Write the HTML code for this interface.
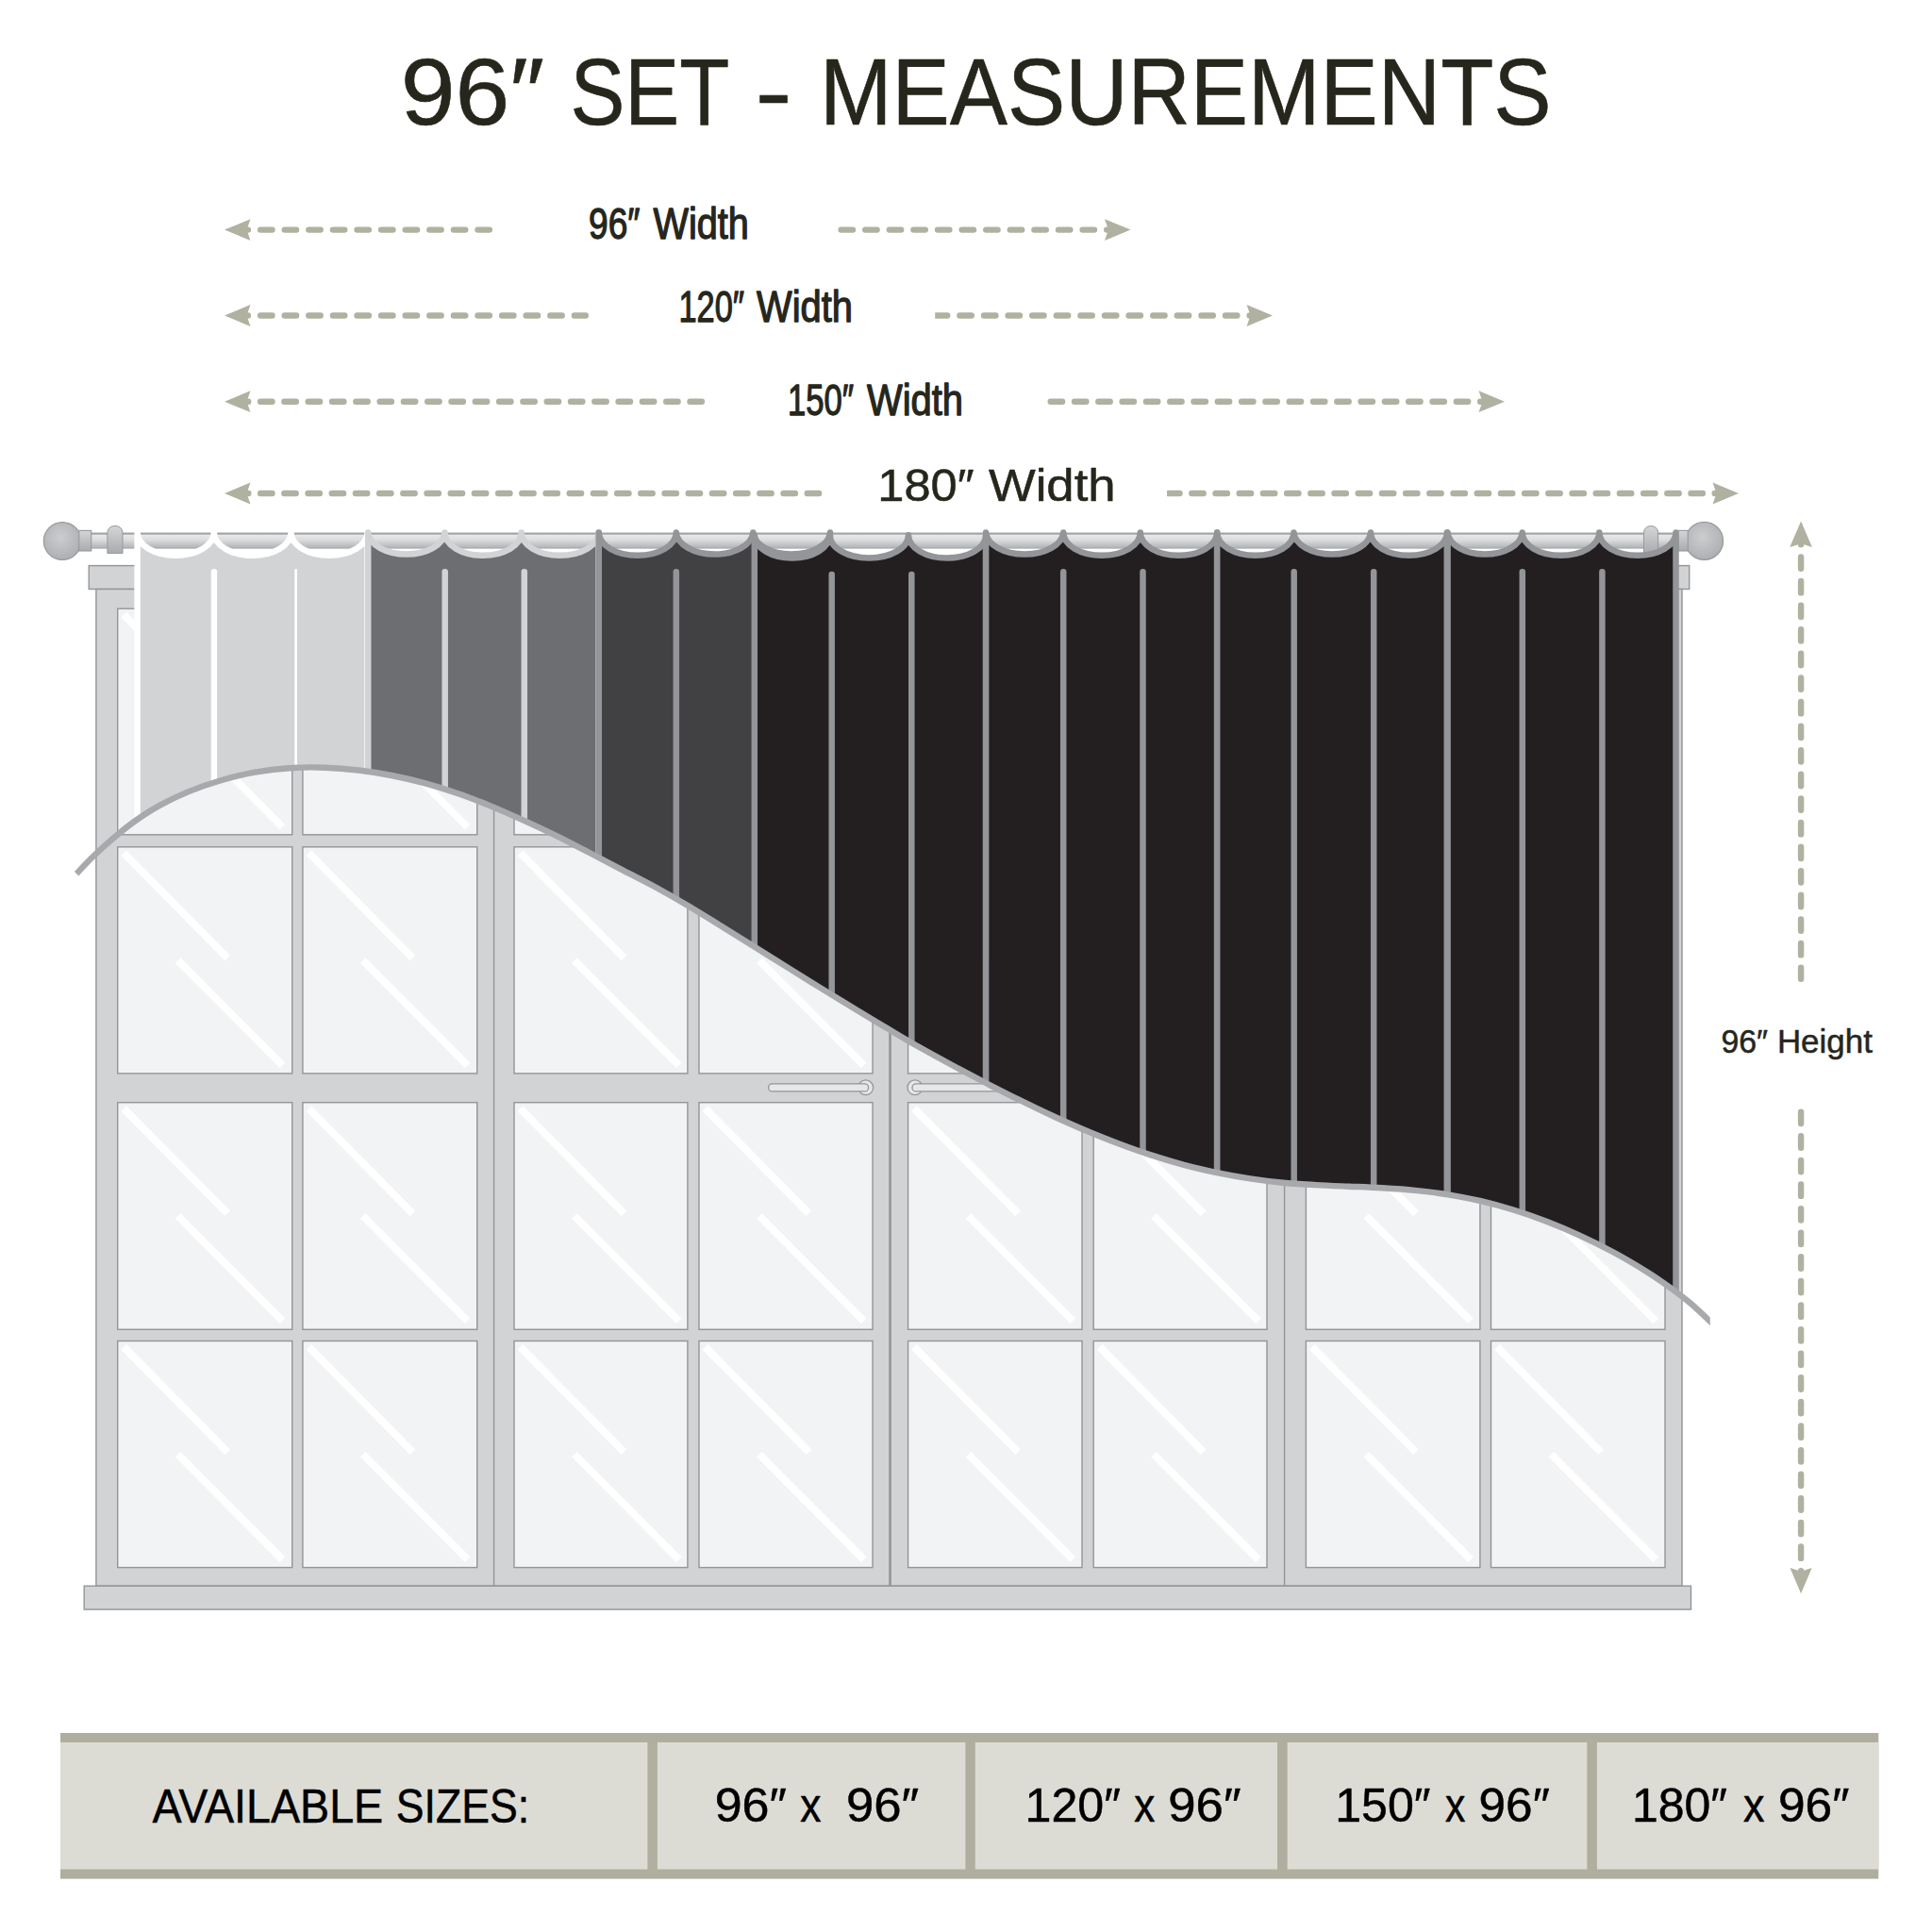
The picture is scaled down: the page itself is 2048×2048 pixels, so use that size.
<!DOCTYPE html>
<html lang="en"><head><meta charset="utf-8"><title>96″ Set - Measurements</title>
<style>html,body{margin:0;padding:0;background:#fff}body{width:2048px;height:2048px;overflow:hidden}svg{display:block}text{font-family:"Liberation Sans",sans-serif}</style></head><body>
<svg width="2048" height="2048" viewBox="0 0 2048 2048">
<defs>
<linearGradient id="rodg" x1="0" y1="0" x2="0" y2="1"><stop offset="0" stop-color="#97999c"/><stop offset="0.09" stop-color="#a4a6a9"/><stop offset="0.16" stop-color="#e6e7e8"/><stop offset="0.45" stop-color="#dcddde"/><stop offset="0.9" stop-color="#b5b7ba"/><stop offset="1" stop-color="#a1a3a6"/></linearGradient>
<linearGradient id="brg" x1="0" y1="0" x2="0" y2="1"><stop offset="0" stop-color="#d4d5d7"/><stop offset="1" stop-color="#a9abae"/></linearGradient>
<radialGradient id="ballg" cx="0.45" cy="0.4" r="0.6"><stop offset="0" stop-color="#cccdcf"/><stop offset="1" stop-color="#adafb2"/></radialGradient>
<clipPath id="wclip"><rect x="0" y="700" width="1812.8" height="800"/></clipPath>
<clipPath id="above"><path d="M0 0H2048V1403L1812.7 1403L1812.6 1400.6C1809.2 1397.4 1799.1 1387.5 1792 1381.5C1784.9 1375.5 1777.8 1370.2 1770 1364.6C1762.2 1359 1755 1353.9 1745 1347.7C1735 1341.5 1721.7 1333.6 1710 1327.3C1698.3 1321 1686.7 1315.3 1675 1309.9C1663.3 1304.5 1651.7 1299.5 1640 1295C1628.3 1290.5 1616.7 1286.4 1605 1282.8C1593.3 1279.2 1581.7 1276 1570 1273.2C1558.3 1270.5 1546.7 1268.2 1535 1266.3C1523.3 1264.4 1511.7 1263.1 1500 1261.9C1488.3 1260.7 1476.7 1260 1465 1259.3C1453.3 1258.6 1441.7 1258.2 1430 1257.7C1418.3 1257.2 1406.7 1256.8 1395 1256.1C1383.3 1255.4 1371.7 1254.8 1360 1253.7C1348.3 1252.6 1336.7 1251.2 1325 1249.4C1313.3 1247.6 1301.7 1245.5 1290 1243.1C1278.3 1240.7 1266.7 1237.9 1255 1234.8C1243.3 1231.7 1231.7 1228.2 1220 1224.4C1208.3 1220.6 1196.7 1216.4 1185 1212C1173.3 1207.6 1161.7 1202.9 1150 1198C1138.3 1193.1 1126.7 1187.9 1115 1182.5C1103.3 1177.1 1091.7 1171.5 1080 1165.7C1068.3 1160 1056.7 1154 1045 1148C1033.3 1142 1021.7 1135.8 1010 1129.5C998.3 1123.2 986.7 1116.9 975 1110.3C963.3 1103.7 951.7 1096.7 940 1089.8C928.3 1082.9 916.7 1075.8 905 1068.7C893.3 1061.6 881.7 1054.6 870 1047.4C858.3 1040.2 846.7 1032.9 835 1025.6C823.3 1018.3 811.7 1011.1 800 1003.8C788.3 996.5 776.7 989.2 765 982C753.3 974.8 741.7 967.3 730 960.4C718.3 953.5 706.7 946.9 695 940.5C683.3 934.1 671.7 928.4 660 922.3C648.3 916.2 636.7 910 625 904C613.3 898 601.7 891.8 590 886.1C578.3 880.4 566.7 875 555 869.7C543.3 864.4 531.7 859.2 520 854.4C508.3 849.6 496.7 845 485 841C473.3 837 461.7 833.4 450 830.2C438.3 827 426.7 824.3 415 822C403.3 819.7 391.7 817.9 380 816.5C368.3 815.1 356.7 814.1 345 813.7C333.3 813.3 322.5 813.2 310 814C297.5 814.8 282.5 816.5 270 818.7C257.5 820.9 246.7 823.6 235 827C223.3 830.4 210.8 834.7 200 839.1C189.2 843.5 179.2 848.4 170 853.4C160.8 858.4 152.5 863.8 145 869C137.5 874.2 130.8 879.7 125 884.4C119.2 889.1 115 892.9 110 897.4C105 901.9 99.8 906.8 95 911.6C90.2 916.4 83.5 923.8 81.2 926.2 L0 925.8Z"/></clipPath>
<clipPath id="cl1"><rect x="991.2" y="324.5" width="900" height="20"/></clipPath>
<clipPath id="cl3"><rect x="1236.9" y="513" width="900" height="20"/></clipPath>
</defs>
<rect width="2048" height="2048" fill="#fff"/>
<g id="window">
<rect x="94.2" y="599.6" width="1696.5" height="24.9" fill="#d1d3d4" stroke="#939598" stroke-width="1.4"/>
<rect x="101.9" y="624.5" width="1681.1" height="1056.7" fill="#d1d3d4" stroke="#939598" stroke-width="1.4"/>
<line x1="523.6" y1="624.5" x2="523.6" y2="1681.2" stroke="#939598" stroke-width="1.4"/>
<line x1="943.5" y1="624.5" x2="943.5" y2="1681.2" stroke="#939598" stroke-width="2.6"/>
<line x1="1361.6" y1="624.5" x2="1361.6" y2="1681.2" stroke="#939598" stroke-width="1.4"/>
<g fill="#f2f3f4" stroke="#939598" stroke-width="1.4">
<rect x="124.7" y="645.2" width="185" height="239.6"/>
<rect x="124.7" y="897.8" width="185" height="240.1"/>
<rect x="124.7" y="1168.7" width="185" height="240.6"/>
<rect x="124.7" y="1421.5" width="185" height="240.1"/>
<rect x="320.9" y="645.2" width="184.8" height="239.6"/>
<rect x="320.9" y="897.8" width="184.8" height="240.1"/>
<rect x="320.9" y="1168.7" width="184.8" height="240.6"/>
<rect x="320.9" y="1421.5" width="184.8" height="240.1"/>
<rect x="545" y="645.2" width="183.9" height="239.6"/>
<rect x="545" y="897.8" width="183.9" height="240.1"/>
<rect x="545" y="1168.7" width="183.9" height="240.6"/>
<rect x="545" y="1421.5" width="183.9" height="240.1"/>
<rect x="741" y="645.2" width="184" height="239.6"/>
<rect x="741" y="897.8" width="184" height="240.1"/>
<rect x="741" y="1168.7" width="184" height="240.6"/>
<rect x="741" y="1421.5" width="184" height="240.1"/>
<rect x="962.6" y="645.2" width="184.4" height="239.6"/>
<rect x="962.6" y="897.8" width="184.4" height="240.1"/>
<rect x="962.6" y="1168.7" width="184.4" height="240.6"/>
<rect x="962.6" y="1421.5" width="184.4" height="240.1"/>
<rect x="1159.2" y="645.2" width="183.8" height="239.6"/>
<rect x="1159.2" y="897.8" width="183.8" height="240.1"/>
<rect x="1159.2" y="1168.7" width="183.8" height="240.6"/>
<rect x="1159.2" y="1421.5" width="183.8" height="240.1"/>
<rect x="1384.4" y="645.2" width="184.5" height="239.6"/>
<rect x="1384.4" y="897.8" width="184.5" height="240.1"/>
<rect x="1384.4" y="1168.7" width="184.5" height="240.6"/>
<rect x="1384.4" y="1421.5" width="184.5" height="240.1"/>
<rect x="1580.5" y="645.2" width="184.5" height="239.6"/>
<rect x="1580.5" y="897.8" width="184.5" height="240.1"/>
<rect x="1580.5" y="1168.7" width="184.5" height="240.6"/>
<rect x="1580.5" y="1421.5" width="184.5" height="240.1"/>
</g>
<g stroke="#fff" stroke-width="8" fill="none">
<path d="M131.2 651.6l110 111.3M188.6 765.5l110.8 111.3"/>
<path d="M131.2 904.2l110 111.3M188.6 1018.1l110.8 111.3"/>
<path d="M131.2 1175.1l110 111.3M188.6 1289l110.8 111.3"/>
<path d="M131.2 1427.9l110 111.3M188.6 1541.8l110.8 111.3"/>
<path d="M327.4 651.6l110 111.3M384.8 765.5l110.8 111.3"/>
<path d="M327.4 904.2l110 111.3M384.8 1018.1l110.8 111.3"/>
<path d="M327.4 1175.1l110 111.3M384.8 1289l110.8 111.3"/>
<path d="M327.4 1427.9l110 111.3M384.8 1541.8l110.8 111.3"/>
<path d="M551.5 651.6l110 111.3M608.9 765.5l110.8 111.3"/>
<path d="M551.5 904.2l110 111.3M608.9 1018.1l110.8 111.3"/>
<path d="M551.5 1175.1l110 111.3M608.9 1289l110.8 111.3"/>
<path d="M551.5 1427.9l110 111.3M608.9 1541.8l110.8 111.3"/>
<path d="M747.5 651.6l110 111.3M804.9 765.5l110.8 111.3"/>
<path d="M747.5 904.2l110 111.3M804.9 1018.1l110.8 111.3"/>
<path d="M747.5 1175.1l110 111.3M804.9 1289l110.8 111.3"/>
<path d="M747.5 1427.9l110 111.3M804.9 1541.8l110.8 111.3"/>
<path d="M969.1 651.6l110 111.3M1026.5 765.5l110.8 111.3"/>
<path d="M969.1 904.2l110 111.3M1026.5 1018.1l110.8 111.3"/>
<path d="M969.1 1175.1l110 111.3M1026.5 1289l110.8 111.3"/>
<path d="M969.1 1427.9l110 111.3M1026.5 1541.8l110.8 111.3"/>
<path d="M1165.7 651.6l110 111.3M1223.1 765.5l110.8 111.3"/>
<path d="M1165.7 904.2l110 111.3M1223.1 1018.1l110.8 111.3"/>
<path d="M1165.7 1175.1l110 111.3M1223.1 1289l110.8 111.3"/>
<path d="M1165.7 1427.9l110 111.3M1223.1 1541.8l110.8 111.3"/>
<path d="M1390.9 651.6l110 111.3M1448.3 765.5l110.8 111.3"/>
<path d="M1390.9 904.2l110 111.3M1448.3 1018.1l110.8 111.3"/>
<path d="M1390.9 1175.1l110 111.3M1448.3 1289l110.8 111.3"/>
<path d="M1390.9 1427.9l110 111.3M1448.3 1541.8l110.8 111.3"/>
<path d="M1587 651.6l110 111.3M1644.4 765.5l110.8 111.3"/>
<path d="M1587 904.2l110 111.3M1644.4 1018.1l110.8 111.3"/>
<path d="M1587 1175.1l110 111.3M1644.4 1289l110.8 111.3"/>
<path d="M1587 1427.9l110 111.3M1644.4 1541.8l110.8 111.3"/>
</g>
<g fill="#e6e7e8" stroke="#939598" stroke-width="1.3">
<circle cx="917.7" cy="1152.8" r="7.9"/>
<rect x="814.6" y="1148.9" width="106" height="8" rx="4"/>
<circle cx="969.9" cy="1152.8" r="7.9"/>
<rect x="967" y="1148.9" width="106" height="8" rx="4"/>
</g>
<rect x="89.2" y="1681.2" width="1703.3" height="24.9" fill="#d1d3d4" stroke="#939598" stroke-width="1.4"/>
</g>
<g id="rod">
<rect x="96" y="564.6" width="1684" height="17" fill="url(#rodg)"/>
<circle cx="66.2" cy="573.5" r="19.9" fill="url(#ballg)" stroke="#97999c" stroke-width="1.2"/>
<circle cx="1806.6" cy="573.4" r="20" fill="url(#ballg)" stroke="#97999c" stroke-width="1.2"/>
<rect x="83.8" y="562.4" width="12.9" height="21.6" fill="url(#brg)" stroke="#97999c" stroke-width="1.1"/>
<rect x="1778.9" y="562.4" width="10.3" height="21.6" fill="url(#brg)" stroke="#97999c" stroke-width="1.1"/>
<path d="M113.9 586.6V564.6a7 7 0 0 1 7 -7h2.1a7 7 0 0 1 7 7V586.6Z" fill="url(#brg)" stroke="#97999c" stroke-width="1"/>
<path d="M1742.5 586.6V564.6a7 7 0 0 1 7 -7h1.1a7 7 0 0 1 7 7V586.6Z" fill="url(#brg)" stroke="#97999c" stroke-width="1"/>
</g>
<g id="curtains" clip-path="url(#above)">
<path d="M145.6 1500V564.6A40.6 24.2 0 0 0 226.8 564.6A40.8 24.2 0 0 0 308.5 564.6A40.5 24.2 0 0 0 389.5 564.6V1500" fill="#d1d3d4" stroke="#ffffff" stroke-width="6.5" stroke-linejoin="round"/>
<line x1="226.9" y1="606.2" x2="226.9" y2="1500" stroke="#ffffff" stroke-width="6.4" stroke-linecap="round"/>
<line x1="313.6" y1="604.3" x2="313.6" y2="1500" stroke="#ffffff" stroke-width="2.6" stroke-linecap="round"/>
<path d="M390.2 1500V564.6A40.7 24.2 0 0 0 471.5 564.6A40.6 24.2 0 0 0 552.7 564.6A40.9 24.2 0 0 0 634.5 564.6V1500" fill="#6d6e71" stroke="#d1d3d4" stroke-width="6.5" stroke-linejoin="round"/>
<line x1="471.7" y1="606.2" x2="471.7" y2="1500" stroke="#d1d3d4" stroke-width="6.5" stroke-linecap="round"/>
<line x1="555.8" y1="606.2" x2="555.8" y2="1500" stroke="#d1d3d4" stroke-width="6.5" stroke-linecap="round"/>
<path d="M634.8 1500V564.6A41 24.2 0 0 0 716.8 564.6A40.8 24.2 0 0 0 798.3 564.6A40.9 24.2 0 0 0 880 564.6V1500" fill="#414042" stroke="#939598" stroke-width="6.5" stroke-linejoin="round"/>
<line x1="716.8" y1="606.2" x2="716.8" y2="1500" stroke="#939598" stroke-width="6.5" stroke-linecap="round"/>
<path d="M799.8 1500V567.3A39.9 24.2 0 0 0 879.6 567.3A41.7 24.2 0 0 0 963 567.3A41 24.2 0 0 0 1045.1 567.3V1500" fill="#231f20" stroke="#939598" stroke-width="6.5" stroke-linejoin="round"/>
<line x1="881.7" y1="609" x2="881.7" y2="1500" stroke="#939598" stroke-width="6.5" stroke-linecap="round"/>
<line x1="966.3" y1="609" x2="966.3" y2="1500" stroke="#939598" stroke-width="6.5" stroke-linecap="round"/>
<path d="M1045.1 1500V564.6A41.1 24.2 0 0 0 1127.2 564.6A40.8 24.2 0 0 0 1208.8 564.6A40.6 24.2 0 0 0 1290.1 564.6V1500" fill="#231f20" stroke="#939598" stroke-width="6.5" stroke-linejoin="round"/>
<line x1="1127.2" y1="606.2" x2="1127.2" y2="1500" stroke="#939598" stroke-width="6.5" stroke-linecap="round"/>
<line x1="1211.5" y1="606.2" x2="1211.5" y2="1500" stroke="#939598" stroke-width="6.5" stroke-linecap="round"/>
<path d="M1290.2 1500V564.6A40.6 24.2 0 0 0 1371.5 564.6A40.8 24.2 0 0 0 1453 564.6A40.4 24.2 0 0 0 1533.8 564.6V1500" fill="#231f20" stroke="#939598" stroke-width="6.5" stroke-linejoin="round"/>
<line x1="1371.7" y1="606.2" x2="1371.7" y2="1500" stroke="#939598" stroke-width="6.5" stroke-linecap="round"/>
<line x1="1456.2" y1="606.2" x2="1456.2" y2="1500" stroke="#939598" stroke-width="6.5" stroke-linecap="round"/>
<path d="M1534.6 1500V564.6A39.6 24.2 0 0 0 1613.7 564.6A40.8 24.2 0 0 0 1695.3 564.6A40.6 24.2 0 0 0 1776.5 564.6V1500" fill="#231f20" stroke="#939598" stroke-width="6.5" stroke-linejoin="round"/>
<line x1="1613.8" y1="606.2" x2="1613.8" y2="1500" stroke="#939598" stroke-width="6.5" stroke-linecap="round"/>
<line x1="1698.4" y1="606.2" x2="1698.4" y2="1500" stroke="#939598" stroke-width="6.5" stroke-linecap="round"/>
</g>
<path d="M81.2 926.2C83.5 923.8 90.2 916.4 95 911.6C99.8 906.8 105 901.9 110 897.4C115 892.9 119.2 889.1 125 884.4C130.8 879.7 137.5 874.2 145 869C152.5 863.8 160.8 858.4 170 853.4C179.2 848.4 189.2 843.5 200 839.1C210.8 834.7 223.3 830.4 235 827C246.7 823.6 257.5 820.9 270 818.7C282.5 816.5 297.5 814.8 310 814C322.5 813.2 333.3 813.3 345 813.7C356.7 814.1 368.3 815.1 380 816.5C391.7 817.9 403.3 819.7 415 822C426.7 824.3 438.3 827 450 830.2C461.7 833.4 473.3 837 485 841C496.7 845 508.3 849.6 520 854.4C531.7 859.2 543.3 864.4 555 869.7C566.7 875 578.3 880.4 590 886.1C601.7 891.8 613.3 898 625 904C636.7 910 648.3 916.2 660 922.3C671.7 928.4 683.3 934.1 695 940.5C706.7 946.9 718.3 953.5 730 960.4C741.7 967.3 753.3 974.8 765 982C776.7 989.2 788.3 996.5 800 1003.8C811.7 1011.1 823.3 1018.3 835 1025.6C846.7 1032.9 858.3 1040.2 870 1047.4C881.7 1054.6 893.3 1061.6 905 1068.7C916.7 1075.8 928.3 1082.9 940 1089.8C951.7 1096.7 963.3 1103.7 975 1110.3C986.7 1116.9 998.3 1123.2 1010 1129.5C1021.7 1135.8 1033.3 1142 1045 1148C1056.7 1154 1068.3 1160 1080 1165.7C1091.7 1171.5 1103.3 1177.1 1115 1182.5C1126.7 1187.9 1138.3 1193.1 1150 1198C1161.7 1202.9 1173.3 1207.6 1185 1212C1196.7 1216.4 1208.3 1220.6 1220 1224.4C1231.7 1228.2 1243.3 1231.7 1255 1234.8C1266.7 1237.9 1278.3 1240.7 1290 1243.1C1301.7 1245.5 1313.3 1247.6 1325 1249.4C1336.7 1251.2 1348.3 1252.6 1360 1253.7C1371.7 1254.8 1383.3 1255.4 1395 1256.1C1406.7 1256.8 1418.3 1257.2 1430 1257.7C1441.7 1258.2 1453.3 1258.6 1465 1259.3C1476.7 1260 1488.3 1260.7 1500 1261.9C1511.7 1263.1 1523.3 1264.4 1535 1266.3C1546.7 1268.2 1558.3 1270.5 1570 1273.2C1581.7 1276 1593.3 1279.2 1605 1282.8C1616.7 1286.4 1628.3 1290.5 1640 1295C1651.7 1299.5 1663.3 1304.5 1675 1309.9C1686.7 1315.3 1698.3 1321 1710 1327.3C1721.7 1333.6 1735 1341.5 1745 1347.7C1755 1353.9 1762.2 1359 1770 1364.6C1777.8 1370.2 1784.9 1375.5 1792 1381.5C1799.1 1387.5 1809.2 1397.4 1812.6 1400.6L1830 1416.5" fill="none" stroke="#a7a9ac" stroke-width="6.4" clip-path="url(#wclip)"/>
<g id="arrows" fill="#b1b1a1">
<g stroke="#b1b1a1" stroke-width="6.4" stroke-linecap="round" fill="none">
<line x1="250.5" y1="243.6" x2="519.3" y2="243.6" stroke-dasharray="12.4 13.2"/>
<line x1="891.6" y1="243.6" x2="1189.3" y2="243.6" stroke-dasharray="12.4 13.2"/>
<line x1="250.5" y1="334.5" x2="620.8" y2="334.5" stroke-dasharray="12.4 13.2"/>
<line x1="966.2" y1="334.5" x2="1339.8" y2="334.5" stroke-dasharray="12.4 13.2" clip-path="url(#cl1)"/>
<line x1="250.8" y1="425.7" x2="744.1" y2="425.7" stroke-dasharray="12.4 12.9"/>
<line x1="1113.7" y1="425.7" x2="1585.8" y2="425.7" stroke-dasharray="12.4 12.9"/>
<line x1="250.9" y1="523" x2="868.8" y2="523" stroke-dasharray="12.4 12.8"/>
<line x1="1212.9" y1="523" x2="1833.8" y2="523" stroke-dasharray="12.4 12.8" clip-path="url(#cl3)"/>
<line x1="1909.1" y1="564.8" x2="1909.1" y2="1037.7" stroke-dasharray="12.4 13.2"/>
<line x1="1909.1" y1="1178.7" x2="1909.1" y2="1676.9" stroke-dasharray="12.4 13.2"/>
</g>
<path d="M238 243.6L265.5 232.2L261.5 243.6L265.5 255Z"/>
<path d="M1198.5 243.6L1171 232.2L1175 243.6L1171 255Z"/>
<path d="M238 334.5L265.5 323.1L261.5 334.5L265.5 345.9Z"/>
<path d="M1349 334.5L1321.5 323.1L1325.5 334.5L1321.5 345.9Z"/>
<path d="M238 425.7L265.5 414.3L261.5 425.7L265.5 437.1Z"/>
<path d="M1595 425.7L1567.5 414.3L1571.5 425.7L1567.5 437.1Z"/>
<path d="M238 523L265.5 511.6L261.5 523L265.5 534.4Z"/>
<path d="M1843 523L1815.5 511.6L1819.5 523L1815.5 534.4Z"/>
<path d="M1909.1 552.4L1897.3 580L1909.1 576.2L1920.9 580Z"/>
<path d="M1909.1 1689.3L1897.5 1662.1L1909.1 1665.7L1920.7 1662.1Z"/>
</g>
<g id="labels" font-family="'Liberation Sans', sans-serif">
<text id="t1" x="424.8" y="131.8" font-size="101" font-weight="normal" fill="#26261c" stroke="#26261c" stroke-width="0.6" stroke-linejoin="round" textLength="152.3" lengthAdjust="spacingAndGlyphs">96″</text>
<text id="t2" x="604.4" y="131.8" font-size="101" font-weight="normal" fill="#26261c" stroke="#26261c" stroke-width="0.6" stroke-linejoin="round" textLength="168.9" lengthAdjust="spacingAndGlyphs">SET</text>
<text id="t3" x="800.6" y="131.8" font-size="101" font-weight="normal" fill="#26261c" stroke="#26261c" stroke-width="0.6" stroke-linejoin="round" textLength="39.1" lengthAdjust="spacingAndGlyphs">-</text>
<text id="t4" x="869" y="131.8" font-size="101" font-weight="normal" fill="#26261c" stroke="#26261c" stroke-width="0.6" stroke-linejoin="round" textLength="775.5" lengthAdjust="spacingAndGlyphs">MEASUREMENTS</text>
<text id="w1a" x="624" y="253.1" font-size="46.4" font-weight="normal" fill="#26261c" stroke="#26261c" stroke-width="1.3" stroke-linejoin="round" textLength="54.4" lengthAdjust="spacingAndGlyphs">96″</text>
<text id="w1b" x="692.6" y="253.1" font-size="46.4" font-weight="normal" fill="#26261c" stroke="#26261c" stroke-width="1.3" stroke-linejoin="round" textLength="101.3" lengthAdjust="spacingAndGlyphs">Width</text>
<text id="w2a" x="719.5" y="341.2" font-size="46.4" font-weight="normal" fill="#26261c" stroke="#26261c" stroke-width="1.3" stroke-linejoin="round" textLength="69.5" lengthAdjust="spacingAndGlyphs">120″</text>
<text id="w2b" x="802.1" y="341.2" font-size="46.4" font-weight="normal" fill="#26261c" stroke="#26261c" stroke-width="1.3" stroke-linejoin="round" textLength="101.8" lengthAdjust="spacingAndGlyphs">Width</text>
<text id="w3a" x="835" y="440" font-size="46.4" font-weight="normal" fill="#26261c" stroke="#26261c" stroke-width="1.3" stroke-linejoin="round" textLength="70" lengthAdjust="spacingAndGlyphs">150″</text>
<text id="w3b" x="919" y="440" font-size="46.4" font-weight="normal" fill="#26261c" stroke="#26261c" stroke-width="1.3" stroke-linejoin="round" textLength="102" lengthAdjust="spacingAndGlyphs">Width</text>
<text id="w4a" x="930.3" y="530.6" font-size="48.8" font-weight="normal" fill="#26261c" stroke="#26261c" stroke-width="0.5" stroke-linejoin="round" textLength="102.3" lengthAdjust="spacingAndGlyphs">180″</text>
<text id="w4b" x="1047.9" y="530.6" font-size="48.8" font-weight="normal" fill="#26261c" stroke="#26261c" stroke-width="0.5" stroke-linejoin="round" textLength="134.7" lengthAdjust="spacingAndGlyphs">Width</text>
<text id="h1a" x="1824.4" y="1115.7" font-size="34.5" font-weight="normal" fill="#26261c" stroke="#26261c" stroke-width="0.5" stroke-linejoin="round" textLength="49.7" lengthAdjust="spacingAndGlyphs">96″</text>
<text id="h1b" x="1883.9" y="1115.7" font-size="34.5" font-weight="normal" fill="#26261c" stroke="#26261c" stroke-width="0.5" stroke-linejoin="round" textLength="101" lengthAdjust="spacingAndGlyphs">Height</text>
</g>
<g id="table" font-family="'Liberation Sans', sans-serif">
<rect x="64" y="1837" width="1927.3" height="154.6" fill="#b0af9f"/>
<rect x="64" y="1847" width="622.4" height="134.5" fill="#dddcd4"/>
<rect x="696.9" y="1847" width="326.5" height="134.5" fill="#dddcd4"/>
<rect x="1033.8" y="1847" width="320.2" height="134.5" fill="#dddcd4"/>
<rect x="1364.7" y="1847" width="317.6" height="134.5" fill="#dddcd4"/>
<rect x="1692.9" y="1847" width="298.4" height="134.5" fill="#dddcd4"/>
<text id="a0" x="161.6" y="1931.8" font-size="49.2" font-weight="normal" fill="#000" stroke="#000" stroke-width="0.5" stroke-linejoin="round" textLength="244.6" lengthAdjust="spacingAndGlyphs">AVAILABLE</text>
<text id="a1" x="419.8" y="1931.8" font-size="49.2" font-weight="normal" fill="#000" stroke="#000" stroke-width="0.5" stroke-linejoin="round" textLength="141.3" lengthAdjust="spacingAndGlyphs">SIZES:</text>
<text id="c1a" x="757.7" y="1931.4" font-size="50" font-weight="normal" fill="#000" stroke="#000" stroke-width="0.5" stroke-linejoin="round" textLength="76.2" lengthAdjust="spacingAndGlyphs">96″</text>
<text id="c1b" x="848.2" y="1931.4" font-size="50" font-weight="normal" fill="#000" stroke="#000" stroke-width="0.5" stroke-linejoin="round" textLength="22.1" lengthAdjust="spacingAndGlyphs">x</text>
<text id="c1c" x="896.9" y="1931.4" font-size="50" font-weight="normal" fill="#000" stroke="#000" stroke-width="0.5" stroke-linejoin="round" textLength="77.3" lengthAdjust="spacingAndGlyphs">96″</text>
<text id="c2a" x="1086.5" y="1931.4" font-size="50" font-weight="normal" fill="#000" stroke="#000" stroke-width="0.5" stroke-linejoin="round" textLength="101.4" lengthAdjust="spacingAndGlyphs">120″</text>
<text id="c2b" x="1202.2" y="1931.4" font-size="50" font-weight="normal" fill="#000" stroke="#000" stroke-width="0.5" stroke-linejoin="round" textLength="22" lengthAdjust="spacingAndGlyphs">x</text>
<text id="c2c" x="1238.3" y="1931.4" font-size="50" font-weight="normal" fill="#000" stroke="#000" stroke-width="0.5" stroke-linejoin="round" textLength="77.3" lengthAdjust="spacingAndGlyphs">96″</text>
<text id="c3a" x="1415.2" y="1931.4" font-size="50" font-weight="normal" fill="#000" stroke="#000" stroke-width="0.5" stroke-linejoin="round" textLength="101.3" lengthAdjust="spacingAndGlyphs">150″</text>
<text id="c3b" x="1531.9" y="1931.4" font-size="50" font-weight="normal" fill="#000" stroke="#000" stroke-width="0.5" stroke-linejoin="round" textLength="21.3" lengthAdjust="spacingAndGlyphs">x</text>
<text id="c3c" x="1567.6" y="1931.4" font-size="50" font-weight="normal" fill="#000" stroke="#000" stroke-width="0.5" stroke-linejoin="round" textLength="75.2" lengthAdjust="spacingAndGlyphs">96″</text>
<text id="c4a" x="1729.9" y="1931.4" font-size="50" font-weight="normal" fill="#000" stroke="#000" stroke-width="0.5" stroke-linejoin="round" textLength="101" lengthAdjust="spacingAndGlyphs">180″</text>
<text id="c4b" x="1848.1" y="1931.4" font-size="50" font-weight="normal" fill="#000" stroke="#000" stroke-width="0.5" stroke-linejoin="round" textLength="22.4" lengthAdjust="spacingAndGlyphs">x</text>
<text id="c4c" x="1884.9" y="1931.4" font-size="50" font-weight="normal" fill="#000" stroke="#000" stroke-width="0.5" stroke-linejoin="round" textLength="75.5" lengthAdjust="spacingAndGlyphs">96″</text>
</g>
</svg>
</body></html>
